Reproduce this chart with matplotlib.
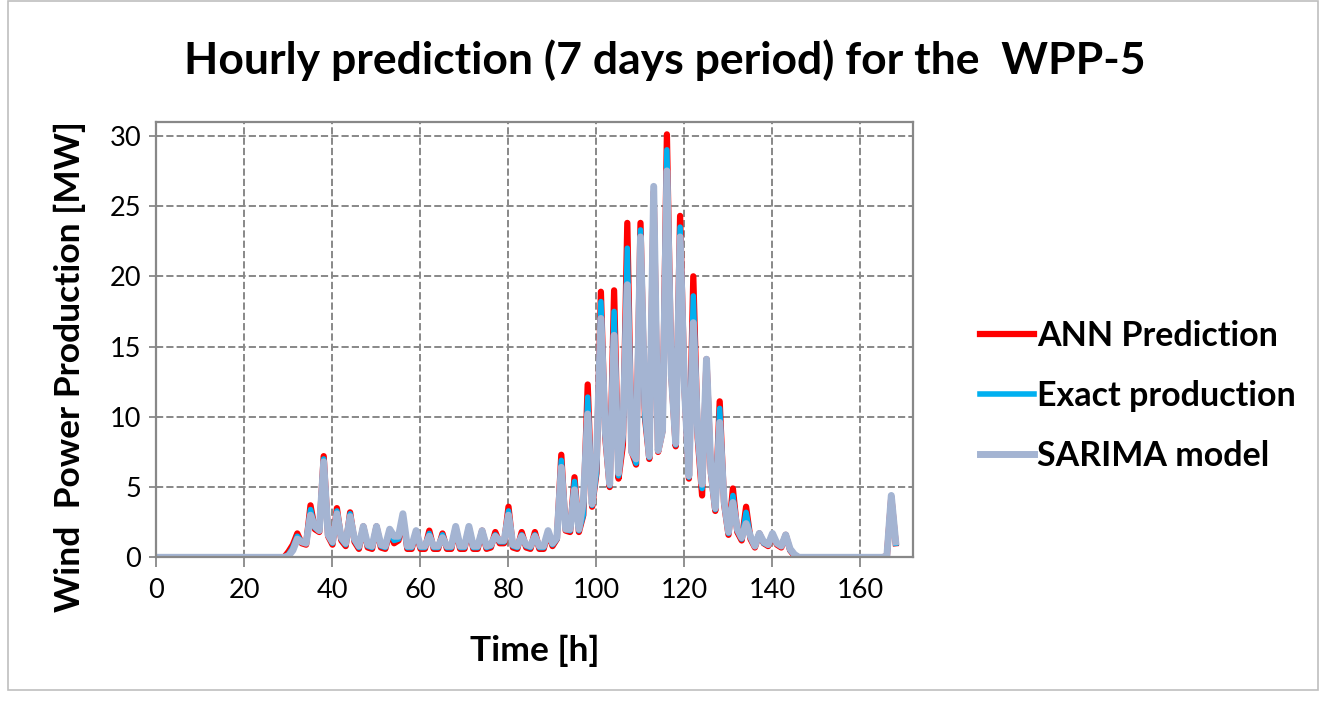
import numpy as np
import matplotlib
matplotlib.use('Agg')
import matplotlib.pyplot as plt
from matplotlib.patches import Rectangle

plt.rcParams['font.family'] = ['Lato', 'DejaVu Sans']

# hourly values, hours 0..168
hours = np.arange(169)

ann_pred = [0.0] * 30 + [
    0.4, 0.9, 1.7, 1.0, 0.9, 3.7, 2.0, 1.8, 7.2, 1.5,
    0.9, 3.5, 1.2, 0.8, 3.2, 1.1, 0.6, 2.2, 0.7, 0.6,
    2.2, 0.7, 0.6, 1.8, 1.0, 1.2, 2.8, 0.6, 0.6, 1.8,
    0.6, 0.6, 1.9, 0.6, 0.6, 1.7, 0.6, 0.6, 2.1, 0.6,
    0.6, 2.1, 0.6, 0.6, 1.9, 0.6, 0.7, 1.8, 1.0, 1.0,
    3.6, 0.7, 0.6, 1.8, 0.7, 0.6, 1.8, 0.6, 0.6, 1.8,
    0.8, 1.3, 7.3, 1.9, 1.8, 5.7, 1.8, 3.0, 12.3, 3.6,
    6.0, 18.9, 8.5, 5.0, 19.0, 5.6, 8.0, 23.8, 7.5, 6.6,
    23.8, 10.0, 7.0, 26.0, 7.5, 9.0, 30.1, 13.0, 7.9, 24.3,
    12.0, 5.6, 20.0, 8.5, 4.4, 14.1, 6.0, 3.3, 11.1, 3.8,
    1.6, 4.9, 1.8, 1.2, 3.6, 1.3, 0.7, 1.7, 1.0, 0.8,
    1.6, 0.9, 0.7, 1.6, 0.5, 0.1] + [0.0] * 20 + [0.1, 4.3, 1.0]

exact_prod = [0.0] * 30 + [
    0.2, 0.7, 1.5, 1.1, 1.0, 3.4, 2.1, 1.9, 7.0, 1.6,
    1.0, 3.3, 1.3, 0.9, 3.1, 1.2, 0.7, 2.2, 0.8, 0.7,
    2.2, 0.8, 0.7, 1.9, 1.2, 1.3, 2.9, 0.7, 0.7, 1.8,
    0.7, 0.7, 1.7, 0.7, 0.7, 1.6, 0.7, 0.7, 2.1, 0.7,
    0.7, 2.1, 0.7, 0.7, 1.9, 0.7, 0.8, 1.6, 1.1, 1.1,
    3.3, 0.8, 0.7, 1.6, 0.8, 0.7, 1.6, 0.7, 0.7, 1.8,
    0.9, 1.3, 6.9, 2.0, 1.9, 5.4, 1.9, 3.0, 11.4, 3.7,
    6.0, 18.2, 8.8, 5.1, 17.5, 5.8, 8.5, 22.0, 7.8, 6.7,
    23.3, 10.0, 7.1, 26.2, 7.6, 9.0, 29.0, 13.0, 8.0, 23.5,
    12.0, 5.7, 18.6, 8.8, 4.9, 14.1, 6.1, 3.4, 10.6, 3.9,
    1.7, 4.4, 1.9, 1.3, 3.2, 1.4, 0.8, 1.7, 1.0, 0.9,
    1.6, 1.0, 0.8, 1.6, 0.5, 0.2] + [0.0] * 20 + [0.1, 4.4, 1.0]

sarima = [0.0] * 30 + [
    0.1, 0.5, 1.3, 1.1, 1.0, 3.0, 2.2, 1.9, 6.8, 1.6,
    1.1, 3.1, 1.4, 1.0, 2.9, 1.3, 0.8, 2.2, 0.9, 0.8,
    2.2, 0.9, 0.8, 2.0, 1.5, 1.5, 3.1, 0.8, 0.8, 1.9,
    0.8, 0.8, 1.5, 0.8, 0.8, 1.4, 0.8, 0.8, 2.2, 0.8,
    0.8, 2.2, 0.8, 0.8, 1.9, 0.8, 0.9, 1.5, 1.2, 1.2,
    3.0, 0.9, 0.8, 1.5, 0.9, 0.8, 1.5, 0.8, 0.8, 1.9,
    1.0, 1.4, 6.4, 2.0, 2.0, 4.8, 2.0, 4.0, 10.2, 3.8,
    7.0, 17.0, 9.0, 5.2, 15.8, 6.0, 9.0, 19.4, 7.5, 7.0,
    22.8, 11.0, 7.2, 26.4, 7.6, 9.0, 27.5, 13.0, 8.1, 22.8,
    12.0, 5.8, 16.7, 9.0, 5.2, 14.1, 6.2, 3.5, 9.6, 4.0,
    1.8, 3.9, 2.0, 1.4, 2.4, 1.5, 0.8, 1.7, 1.1, 0.9,
    1.7, 1.0, 0.8, 1.6, 0.6, 0.2] + [0.0] * 20 + [0.1, 4.4, 1.1]

labels = ['ANN Prediction', 'Exact production', 'SARIMA model']
colors = ['#FF0000', '#00B0F0', '#A4B4D2']
widths = [4.5, 4.0, 5.0]

fig = plt.figure(figsize=(13.24, 7.02), dpi=100)
ax = fig.add_axes([0.1182, 0.2061, 0.5716, 0.6205])

for vals, lab, c, w in zip([ann_pred, exact_prod, sarima], labels, colors, widths):
    ax.plot(hours, vals, color=c, lw=w, label=lab, solid_joinstyle='round')

ax.set_xlim(0, 172)
ax.set_ylim(0, 31)
ax.set_xticks(np.arange(0, 161, 20))
ax.set_yticks(np.arange(0, 31, 5))
ax.grid(True, color='#888888', linestyle='--', linewidth=1.4)
ax.set_axisbelow(True)
for sp in ax.spines.values():
    sp.set_color('#888888')
    sp.set_linewidth(1.6)
ax.tick_params(axis='both', colors='#888888', labelcolor='black', labelsize=19.5, width=1.3)
ax.tick_params(axis='x', length=7, pad=8)
ax.tick_params(axis='y', length=5, pad=6)

ax.set_xlabel('Time [h]', fontsize=25.5, fontweight='bold', labelpad=23)
ax.set_ylabel('Wind  Power Production [MW]', fontsize=25.5, fontweight='bold', labelpad=17)
ax.yaxis.label.set_y(0.437)
fig.text(0.502, 0.914, 'Hourly prediction (7 days period) for the  WPP-5',
         ha='center', va='center', fontsize=32, fontweight='bold')

leg = ax.legend(loc='center left', bbox_to_anchor=(0.717, 0.436), bbox_transform=fig.transFigure,
                frameon=False, fontsize=24.5, handlelength=1.6, handletextpad=0.08, labelspacing=0.83)
for t in leg.get_texts():
    t.set_fontweight('bold')

# outer chart border
fig.patches.append(Rectangle((8 / 1324, 12 / 702), 1310 / 1324, 689 / 702,
                             transform=fig.transFigure, fill=False, edgecolor='#BFBFBF', lw=1.2))

fig.savefig('out.png', dpi=100)
